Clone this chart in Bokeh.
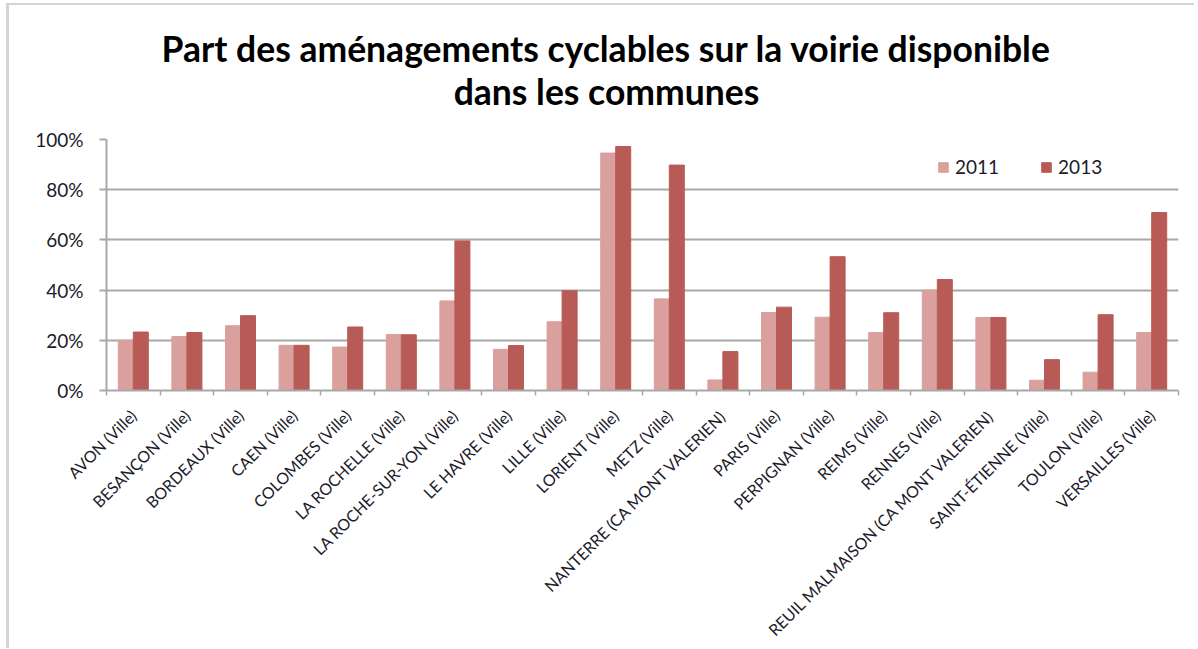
import math
from bokeh.plotting import figure
from bokeh.layouts import column
from bokeh.models import (ColumnDataSource, FixedTicker, NumeralTickFormatter,
                          Legend, LegendItem, Range1d, Label)
from bokeh.embed import file_html
from bokeh.resources import INLINE

title_lines = ["Part des aménagements cyclables sur la voirie disponible",
               "dans les communes"]
communes = ["AVON (Ville)", "BESANÇON (Ville)", "BORDEAUX (Ville)", "CAEN (Ville)",
            "COLOMBES (Ville)", "LA ROCHELLE (Ville)", "LA ROCHE-SUR-YON (Ville)",
            "LE HAVRE (Ville)", "LILLE (Ville)", "LORIENT (Ville)", "METZ (Ville)",
            "NANTERRE (CA MONT VALERIEN)", "PARIS (Ville)", "PERPIGNAN (Ville)",
            "REIMS (Ville)", "RENNES (Ville)", "REUIL MALMAISON (CA MONT VALERIEN)",
            "SAINT-ÉTIENNE (Ville)", "TOULON (Ville)", "VERSAILLES (Ville)"]
v2011 = [0.20, 0.215, 0.258, 0.18, 0.173, 0.223, 0.357, 0.164, 0.274, 0.946,
         0.365, 0.042, 0.311, 0.292, 0.231, 0.400, 0.291, 0.041, 0.073, 0.231]
v2013 = [0.233, 0.231, 0.298, 0.18, 0.253, 0.222, 0.596, 0.179, 0.397, 0.972,
         0.898, 0.155, 0.332, 0.533, 0.310, 0.442, 0.291, 0.123, 0.302, 0.709]
series = ["2011", "2013"]
colors = ["#D9A09E", "#B85A55"]
y_ticks = [0, 0.2, 0.4, 0.6, 0.8, 1.0]

FONT = "Lato"
TXT = "#1b1b2b"
GRID = "#A8A8A8"

n = len(communes)
centers = [i + 0.5 for i in range(n)]
bw = 0.28

W = 1185
TH, PH = 120, 523

# ---- title strip -------------------------------------------------------
t = figure(width=W, height=TH, output_backend="svg", toolbar_location=None,
           x_axis_type=None, y_axis_type=None, x_range=Range1d(0, 1),
           y_range=Range1d(0, 1), min_border=0)
t.outline_line_color = None
t.grid.visible = False
t.background_fill_color = "white"
t.border_fill_color = "white"
for txt, yy in zip(title_lines, [77, 34]):
    t.add_layout(Label(x=500, y=yy, x_units="screen", y_units="screen", text=txt,
                       text_align="center", text_baseline="middle",
                       text_font=FONT, text_font_size="35.5px",
                       text_font_style="bold", text_color="#000000"))

# ---- chart -------------------------------------------------------------
p = figure(width=W, height=PH, output_backend="svg", toolbar_location=None,
           x_range=Range1d(0, n), y_range=Range1d(0, 1.0),
           min_border_left=97, min_border_right=16, min_border_top=14,
           min_border_bottom=257)
p.title = None

src = ColumnDataSource(dict(c=centers, a=v2011, b=v2013,
                            xa=[c - bw / 2 for c in centers],
                            xb=[c + bw / 2 for c in centers]))
r1 = p.vbar(x="xa", top="a", width=bw, source=src, fill_color=colors[0],
            line_color=colors[0])
r2 = p.vbar(x="xb", top="b", width=bw, source=src, fill_color=colors[1],
            line_color=colors[1])

legend = Legend(items=[LegendItem(label=series[0], renderers=[r1]),
                       LegendItem(label=series[1], renderers=[r2])],
                orientation="horizontal", location=(831, 212),
                background_fill_alpha=0, border_line_color=None,
                label_text_font=FONT, label_text_font_size="19px",
                label_text_color=TXT, glyph_width=12, glyph_height=12,
                label_height=14, spacing=41, label_standoff=6, margin=0, padding=0)
p.add_layout(legend)

xax = p.xaxis[0]
xax.ticker = FixedTicker(ticks=centers, minor_ticks=list(range(n + 1)))
xax.major_label_overrides = {c: name for c, name in zip(centers, communes)}
xax.major_label_orientation = math.pi / 4
xax.major_tick_line_color = None
xax.minor_tick_line_color = GRID
xax.minor_tick_line_width = 1.5
xax.minor_tick_in = 0
xax.minor_tick_out = 5
xax.axis_line_color = GRID
xax.axis_line_width = 2
xax.major_label_text_font = FONT
xax.major_label_text_font_size = "16px"
xax.major_label_text_color = TXT
xax.major_label_standoff = 16

yax = p.yaxis[0]
yax.ticker = FixedTicker(ticks=y_ticks)
yax.formatter = NumeralTickFormatter(format="0%")
yax.axis_line_color = GRID
yax.axis_line_width = 2
yax.major_tick_line_color = GRID
yax.major_tick_line_width = 2
yax.major_tick_in = 0
yax.major_tick_out = 7
yax.minor_tick_line_color = None
yax.major_label_text_font = FONT
yax.major_label_text_font_size = "19px"
yax.major_label_text_color = TXT
yax.major_label_standoff = 16

p.xgrid.grid_line_color = None
p.ygrid.grid_line_color = GRID
p.ygrid.grid_line_width = 2
p.ygrid.ticker = FixedTicker(ticks=y_ticks[1:])
p.outline_line_color = None
p.background_fill_color = "white"
p.border_fill_color = "white"

layout = column(t, p, spacing=0,
                styles={"margin-left": "6px", "margin-top": "3px",
                        "border-left": "3px solid #D4D4D4",
                        "border-top": "2px solid #D4D4D4"})

open("out.html", "w").write(file_html(layout, INLINE))
